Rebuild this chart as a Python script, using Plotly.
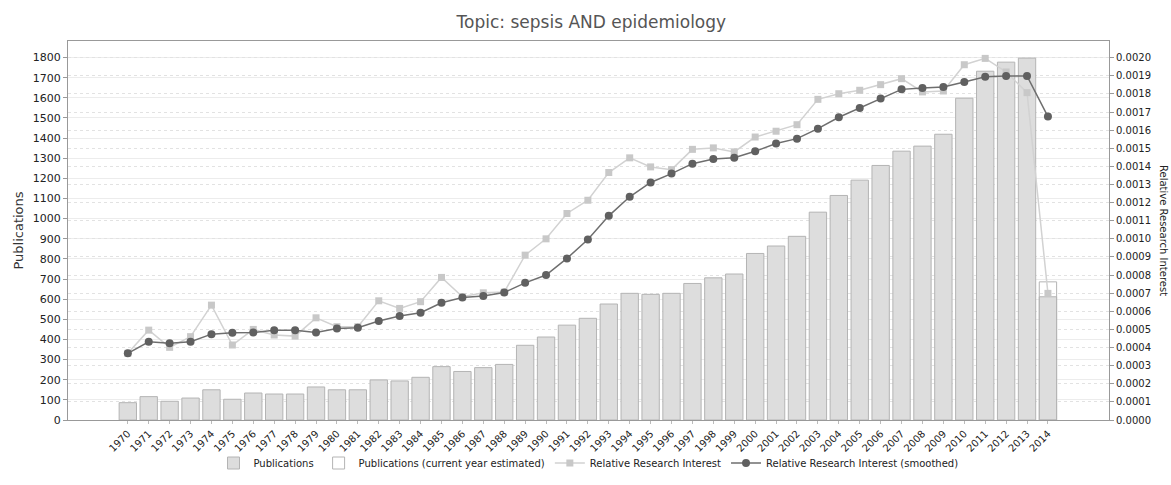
import plotly.graph_objects as go

years = list(range(1970, 2015))
publications = [86, 116, 93, 109, 150, 103, 134, 129, 129, 164, 150, 150, 199, 194, 212,
                265, 241, 260, 276, 371, 412, 471, 505, 576, 629, 624, 629, 678, 706, 725,
                827, 864, 912, 1032, 1115, 1191, 1264, 1335, 1360, 1419, 1598, 1732, 1777, 1797, 612]
estimated = [None] * 44 + [686]
rri = [0.000368, 0.000496, 0.000401, 0.000460, 0.000634, 0.000414, 0.000500, 0.000469, 0.000463,
       0.000564, 0.000515, 0.000515, 0.000658, 0.000616, 0.000653, 0.000787, 0.000680, 0.000702,
       0.000706, 0.000910, 0.001000, 0.001140, 0.001213, 0.001366, 0.001447, 0.001397, 0.001382,
       0.001494, 0.001502, 0.001480, 0.001562, 0.001594, 0.001630, 0.001770, 0.001801, 0.001820,
       0.001851, 0.001884, 0.001811, 0.001816, 0.001961, 0.001996, 0.001921, 0.001807, 0.000699]
rri_smooth = [0.000368, 0.000432, 0.000423, 0.000432, 0.000474, 0.000482, 0.000483, 0.000496,
              0.000496, 0.000483, 0.000505, 0.000509, 0.000546, 0.000574, 0.000592, 0.000647,
              0.000676, 0.000684, 0.000704, 0.000757, 0.000800, 0.000892, 0.000996, 0.001127,
              0.001232, 0.001311, 0.001360, 0.001415, 0.001441, 0.001448, 0.001483, 0.001526,
              0.001553, 0.001608, 0.001671, 0.001722, 0.001774, 0.001825, 0.001833, 0.001838,
              0.001866, 0.001895, 0.001899, 0.001899, 0.001675]
tick_labels = [str(y) for y in years]

FONT = "DejaVu Sans"

fig = go.Figure()
fig.add_trace(go.Bar(x=years, y=publications, name="Publications", width=0.83,
                     marker=dict(color="#dddddd", line=dict(color="#b4b4b4", width=1))))
fig.add_trace(go.Bar(x=years, y=estimated, name="Publications (current year estimated)", width=0.83,
                     marker=dict(color="rgba(255,255,255,0)", line=dict(color="#b4b4b4", width=1))))
fig.add_trace(go.Scatter(x=years, y=rri, name="Relative Research Interest", yaxis="y2",
                         mode="lines+markers",
                         line=dict(color="#d2d2d2", width=1.5),
                         marker=dict(symbol="square", size=7, color="#c8c8c8")))
fig.add_trace(go.Scatter(x=years, y=rri_smooth, name="Relative Research Interest (smoothed)", yaxis="y2",
                         mode="lines+markers",
                         line=dict(color="#6e6e6e", width=1.5),
                         marker=dict(symbol="circle", size=8, color="#606060")))

fig.update_layout(
    width=1171, height=485,
    margin=dict(l=68, r=62, t=41, b=65, autoexpand=False),
    paper_bgcolor="white", plot_bgcolor="white",
    barmode="overlay",
    font=dict(family=FONT, size=11, color="#222222"),
    title=dict(text="Topic: sepsis AND epidemiology", x=0.505, xanchor="center",
               y=1 - 22 / 485, yanchor="middle", yref="container",
               font=dict(family=FONT, size=17, color="#555555")),
    showlegend=True,
    legend=dict(orientation="h", x=0.5, xanchor="center", yref="container",
                y=1 - 463 / 485, yanchor="middle",
                font=dict(family=FONT, size=10, color="#222222"), itemwidth=30,
                bgcolor="rgba(0,0,0,0)"),
    xaxis=dict(range=[1967.14, 2016.92], tickmode="array", tickvals=years, ticktext=tick_labels,
               tickangle=-45, tickfont=dict(size=10), showgrid=False, zeroline=False,
               showline=True, linecolor="#999999", linewidth=1, mirror=True,
               ticks="outside", ticklen=3, tickcolor="#bbbbbb", automargin=False),
    yaxis=dict(range=[0, 1882], dtick=100, tick0=0, showgrid=True, gridcolor="#ececec",
               zeroline=False, showline=True, linecolor="#999999", linewidth=1,
               ticks="outside", ticklen=4, tickcolor="#999999", automargin=False,
               title=dict(text="Publications", font=dict(size=13, color="#333333"), standoff=6)),
    yaxis2=dict(range=[0, 0.002092], dtick=0.0001, tick0=0, tickformat=".4f", overlaying="y",
                side="right", showgrid=True, gridcolor="#e2e2e2", griddash="dot",
                zeroline=False, showline=True, linecolor="#999999", linewidth=1,
                ticks="outside", ticklen=4, tickcolor="#999999", automargin=False,
                tickfont=dict(size=10)),
    annotations=[dict(text="Relative Research Interest", textangle=90, x=(1171 - 68) / 1041,
                      xanchor="right", y=0.5, xref="paper", yref="paper", showarrow=False,
                      font=dict(family=FONT, size=10, color="#222222"))],
)

fig.write_html("out.html", config={"displayModeBar": False},
               post_script="document.body.style.margin='0';")
